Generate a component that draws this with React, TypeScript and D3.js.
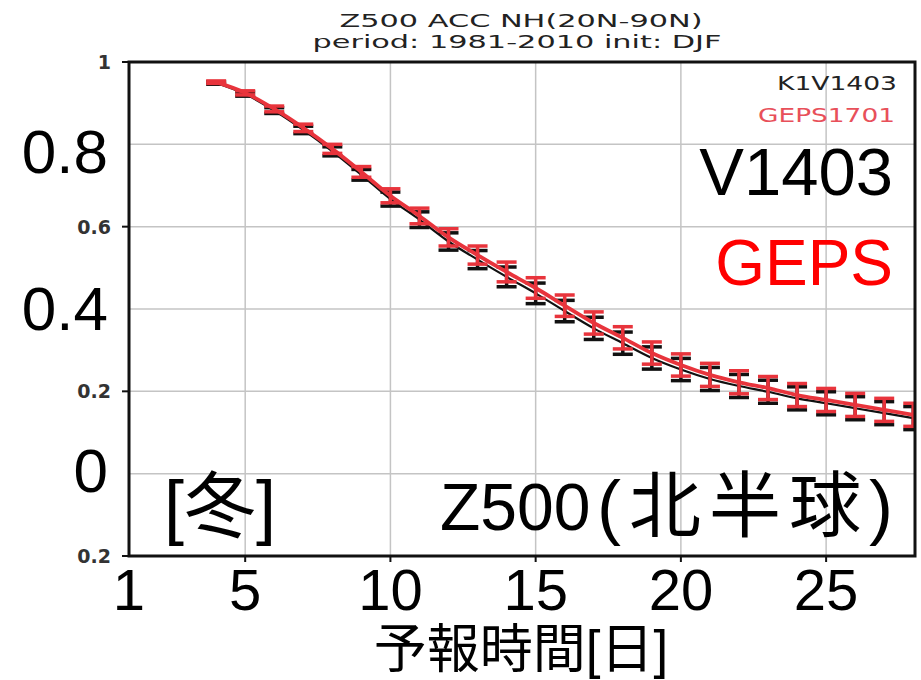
import * as d3 from 'd3';

// forecast day
const days = [4, 5, 6, 7, 8, 9, 10, 11, 12, 13, 14, 15, 16, 17, 18, 19, 20, 21, 22, 23, 24, 25, 26, 27, 28];
// GEPS1701 ACC
const gepsAcc = [0.951, 0.925, 0.886, 0.840, 0.789, 0.733, 0.675, 0.626, 0.574, 0.531, 0.490, 0.451, 0.408, 0.366, 0.330, 0.293, 0.264, 0.240, 0.222, 0.208, 0.191, 0.179, 0.167, 0.155, 0.143];
// K1V1403 ACC
const k1Acc = [0.949, 0.922, 0.882, 0.835, 0.783, 0.726, 0.667, 0.617, 0.564, 0.520, 0.478, 0.438, 0.395, 0.353, 0.317, 0.281, 0.253, 0.230, 0.213, 0.199, 0.183, 0.171, 0.159, 0.147, 0.135];
// half length of the error bars
const errHalf = [0.003, 0.005, 0.007, 0.009, 0.011, 0.013, 0.017, 0.019, 0.021, 0.022, 0.024, 0.025, 0.026, 0.027, 0.027, 0.027, 0.027, 0.028, 0.028, 0.028, 0.028, 0.028, 0.028, 0.028, 0.028];

const xGrid = [5, 10, 15, 20, 25];
const yGrid = [0.8, 0.6, 0.4, 0.2, 0];
const xBigLabels = [1, 5, 10, 15, 20, 25];
const ySmallTicks = [1, 0.6, 0.2, -0.2];
const ySmallLabels = ['1', '0.6', '0.2', '0.2'];
const yBigLabels = ['0.8', '0.4', '0'];
const yBigValues = [0.8, 0.4, 0];

const W = 921;
const H = 680;
const left = 129, right = 915, top = 62, bottom = 556;

const RED = '#e8343c';
const SANS = '"Liberation Sans", Arial, "Noto Sans CJK JP", sans-serif';
const GRADS = '"DejaVu Sans", sans-serif';

export default function App() {
  const x = d3.scaleLinear().domain([1, 28.06]).range([left, right]);
  const y = d3.scaleLinear().domain([-0.2, 1]).range([bottom, top]);

  const line = d3.line<number>()
    .x((_, i) => x(days[i]))
    .y(d => y(d))
    .curve(d3.curveMonotoneX);

  const bars = (vals: number[], color: string) =>
    vals.map((v, i) => {
      const cx = x(days[i]);
      const y1 = y(v + errHalf[i]);
      const y2 = y(v - errHalf[i]);
      return (
        <g key={i} stroke={color} strokeWidth={3.5}>
          <line x1={cx} x2={cx} y1={y1} y2={y2} />
          <line x1={cx - 10} x2={cx + 10} y1={y1} y2={y1} />
          <line x1={cx - 10} x2={cx + 10} y1={y2} y2={y2} />
        </g>
      );
    });

  // offsets of the pasted big y labels from their grid value
  const bigDy = [29, 21, 18];

  return (
    <svg width={W} height={H} style={{ position: 'absolute', left: 0, top: 0, background: '#fff' }}>
      <defs>
        <clipPath id="plot">
          <rect x={left} y={top} width={right - left} height={bottom - top} />
        </clipPath>
      </defs>

      {/* title */}
      <text x={521} y={27} textAnchor="middle" fontFamily={GRADS} fontSize={18} fill="#222"
        textLength={363} lengthAdjust="spacingAndGlyphs">Z500 ACC NH(20N-90N)</text>
      <text x={517} y={48} textAnchor="middle" fontFamily={GRADS} fontSize={18} fill="#222"
        textLength={409} lengthAdjust="spacingAndGlyphs">period: 1981-2010 init: DJF</text>

      {/* grid */}
      {xGrid.map(d => (
        <line key={'gx' + d} x1={x(d)} x2={x(d)} y1={top} y2={bottom} stroke="#c4c4c4" strokeWidth={1.5} />
      ))}
      {yGrid.map(d => (
        <line key={'gy' + d} x1={left} x2={right} y1={y(d)} y2={y(d)} stroke="#c4c4c4" strokeWidth={1.5} />
      ))}

      {/* series */}
      <g clipPath="url(#plot)">
        <path d={line(k1Acc) || ''} fill="none" stroke="#111" strokeWidth={2.2} />
        {bars(k1Acc, '#111')}
        <path d={line(gepsAcc) || ''} fill="none" stroke={RED} strokeWidth={3.8} />
        {bars(gepsAcc, RED)}
      </g>

      {/* frame */}
      <rect x={left} y={top} width={right - left} height={bottom - top} fill="none" stroke="#111" strokeWidth={3} />
      {ySmallTicks.map(t => (
        <line key={'ty' + t} x1={left - 7} x2={left} y1={y(t)} y2={y(t)} stroke="#111" strokeWidth={2} />
      ))}
      {xGrid.map(d => (
        <line key={'tx' + d} x1={x(d)} x2={x(d)} y1={bottom} y2={bottom + 6} stroke="#111" strokeWidth={2} />
      ))}

      {/* small y tick labels */}
      {ySmallTicks.map((t, i) => (
        <text key={'sl' + i} x={left - 18} y={y(t)} dy="0.36em" textAnchor="end" fontFamily={GRADS}
          fontSize={19} fontWeight="bold" fill="#333">{ySmallLabels[i]}</text>
      ))}

      {/* legend */}
      <text x={897} y={90} textAnchor="end" fontFamily={GRADS} fontSize={20} fill="#222"
        textLength={120} lengthAdjust="spacingAndGlyphs">K1V1403</text>
      <text x={895} y={122} textAnchor="end" fontFamily={GRADS} fontSize={20} fill="#e8505a"
        textLength={137} lengthAdjust="spacingAndGlyphs">GEPS1701</text>

      {/* big overlay labels */}
      {yBigLabels.map((l, i) => (
        <text key={'bl' + i} x={108} y={y(yBigValues[i]) + bigDy[i]} textAnchor="end" fontFamily={SANS}
          fontSize={62} fill="#000">{l}</text>
      ))}
      {xBigLabels.map(d => (
        <text key={'bx' + d} x={x(d)} y={610} textAnchor="middle" fontFamily={SANS} fontSize={58} fill="#000">{d}</text>
      ))}
      <text x={521} y={668} textAnchor="middle" fontFamily={SANS} fontSize={53} fill="#000">予報時間[日]</text>

      <text x={893} y={195} textAnchor="end" fontFamily={SANS} fontSize={67} fill="#000">V1403</text>
      <text x={893} y={285} textAnchor="end" fontFamily={SANS} fontSize={64} fill="#ff0000">GEPS</text>
      <text x={220} y={531} textAnchor="middle" fontFamily={SANS} fontSize={72} fill="#000">[冬]</text>
      <text x={440} y={530} textAnchor="start" fontFamily={SANS} fontSize={66} fill="#000">Z500</text>
      <text x={597} y={531} textAnchor="start" fontFamily={SANS} fontSize={72} fill="#000"
        textLength={296} lengthAdjust="spacing">(北半球)</text>
    </svg>
  );
}
